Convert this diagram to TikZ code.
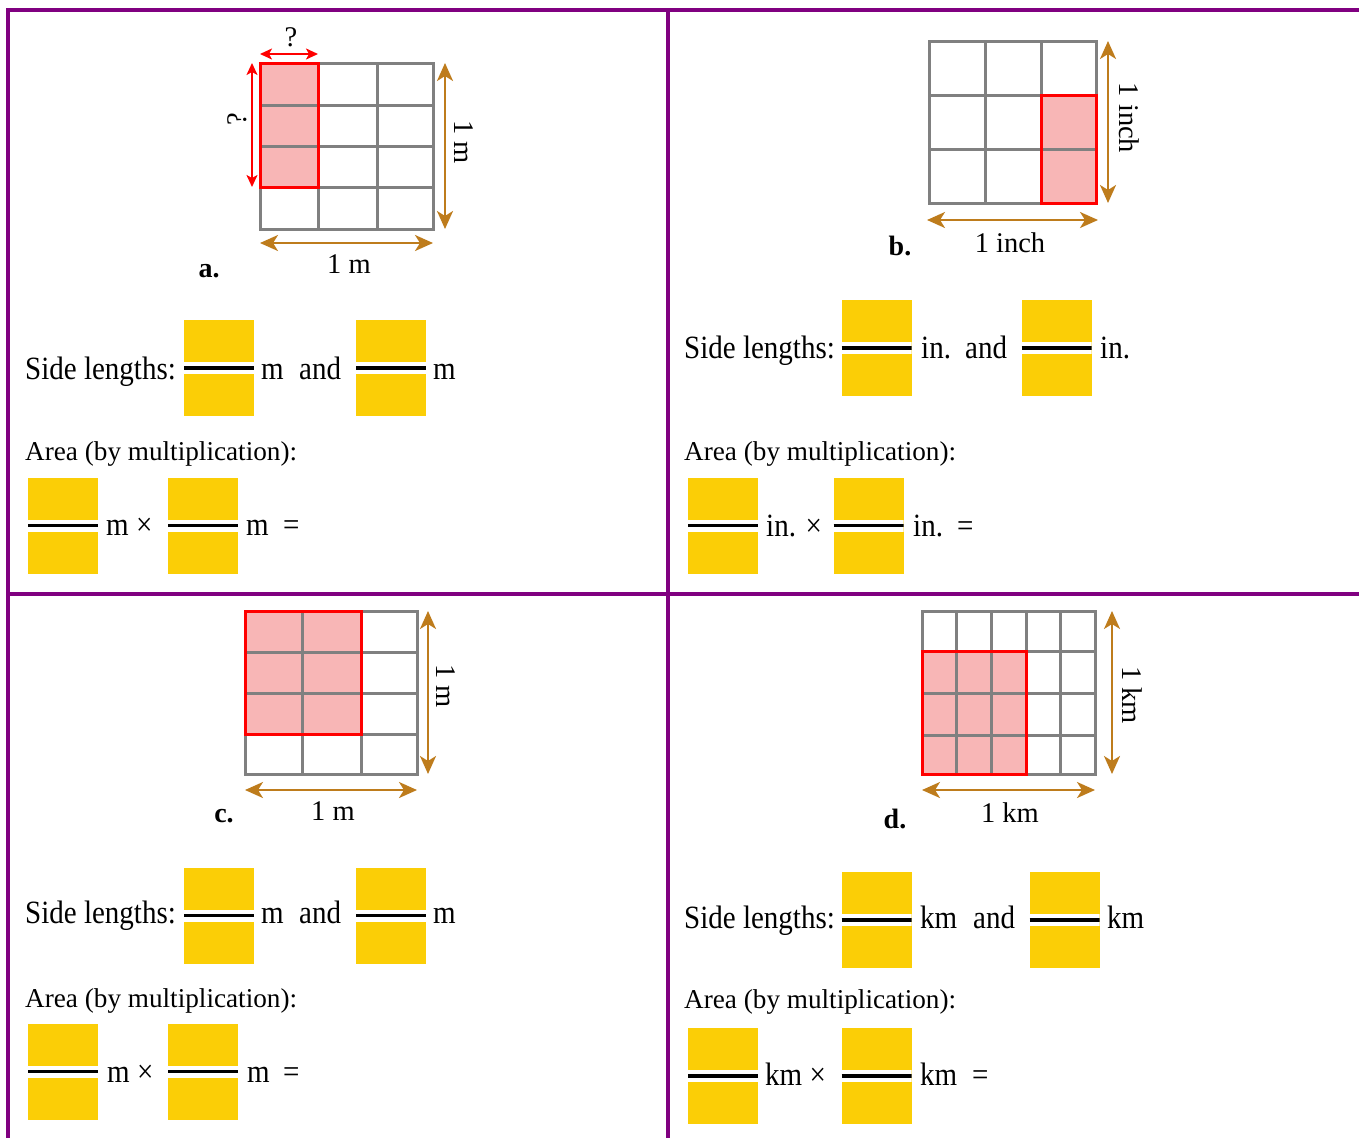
\documentclass[tikz,border=0pt]{standalone}
\usepackage{fontspec}
\setmainfont{Liberation Serif}
\usetikzlibrary{arrows.meta}
\definecolor{framepurple}{RGB}{128,0,128}
\definecolor{ansyellow}{RGB}{251,206,6}
\definecolor{gridgray}{RGB}{128,128,128}
\definecolor{pinkfill}{RGB}{248,182,182}
\definecolor{dimbrown}{RGB}{190,124,28}
\definecolor{hired}{RGB}{255,0,0}
\newcommand{\stretchrow}[1]{\scalebox{1}[1.12]{#1}}
\tikzset{
  frameline/.style={draw=framepurple, line width=4pt},
  gridline/.style={draw=gridgray, line width=3pt},
  hilite/.style={draw=hired, line width=3pt},
  dimarrow/.style={draw=dimbrown, line width=2.2pt,
    {Stealth[length=18pt,width=16pt,inset=5pt]}-{Stealth[length=18pt,width=16pt,inset=5pt]}},
  redarrow/.style={draw=hired, line width=1.8pt,
    {Stealth[length=12pt,width=11pt,inset=3pt]}-{Stealth[length=12pt,width=11pt,inset=3pt]}},
  lbl/.style={inner sep=0pt, font=\fontsize{28.5}{33}\selectfont},
  baselbl/.style={lbl, anchor=base},
  panelletter/.style={inner sep=0pt, anchor=base, font=\fontsize{28}{33}\selectfont\bfseries},
  rowtxt/.style={inner sep=0pt, anchor=base west, font=\fontsize{29}{34}\selectfont},
  areatxt/.style={inner sep=0pt, anchor=base west, font=\fontsize{27.2}{32}\selectfont},
  ansbox/.style={rectangle, fill=ansyellow, minimum width=70pt, minimum height=96pt, inner sep=0pt,
    path picture={
      \fill[white] ([yshift=-6pt]path picture bounding box.west) rectangle ([yshift=6pt]path picture bounding box.east);
      \draw[black, line width=3.2pt] (path picture bounding box.west) -- (path picture bounding box.east);
    }},
}
\begin{document}
\begin{tikzpicture}[x=1pt, y=-1pt]
\useasboundingbox (0,0) rectangle (1359,1138);
\fill[white] (0,0) rectangle (1359,1138);

% ---------- frame ----------
\draw[frameline] (6,10) -- (1359,10);
\draw[frameline] (8,8) -- (8,1138);
\draw[frameline] (668,10) -- (668,1138);
\draw[frameline] (8,593.5) -- (1359,593.5);

% ---------- panel a ----------
\fill[pinkfill] (260,63) rectangle (318,187);
\draw[gridline] (260,63) rectangle (433,229);
\foreach \xx in {318,377} \draw[gridline] (\xx,63) -- (\xx,229);
\foreach \yy in {105.5,146.5,187} \draw[gridline] (260,\yy) -- (433,\yy);
\draw[hilite] (260,63) rectangle (318,187);
\coordinate (aRH1) at (260,54); \coordinate (aRH2) at (318,54);
\coordinate (aRV1) at (252,63); \coordinate (aRV2) at (252,187);
\coordinate (aBV1) at (445,63); \coordinate (aBV2) at (445,229);
\coordinate (aBH1) at (260,243); \coordinate (aBH2) at (433,243);
\draw[redarrow] (aRH1) -- (aRH2);
\draw[redarrow] (aRV1) -- (aRV2);
\draw[dimarrow] (aBV1) -- (aBV2);
\draw[dimarrow] (aBH1) -- (aBH2);
\node[lbl] (aq1) at (291,37) {?};
\node[lbl, rotate=90] (aq2) at (237,119) {?};
\node[lbl, rotate=-90] (aside) at (464,142) {1 m};
\node[baselbl] (abot) at (349,273) {1 m};
\node[panelletter] (alet) at (209,277) {a.};

\node[rowtxt] (aside1) at (25,379) {\stretchrow{Side lengths:}};
\node[ansbox] (ab1) at (219,368) {};
\node[rowtxt] (au1) at (261,379) {\stretchrow{m}};
\node[rowtxt] (aand) at (299,379) {\stretchrow{and}};
\node[ansbox] (ab2) at (391,368) {};
\node[rowtxt] (au2) at (433,379) {\stretchrow{m}};
\node[areatxt] (aarea) at (25,460) {Area (by multiplication):};
\node[ansbox] (ab3) at (63,525.5) {};
\node[rowtxt] (au3) at (106,535) {\stretchrow{m ×}};
\node[ansbox] (ab4) at (203,525.5) {};
\node[rowtxt] (au4) at (246,535) {\stretchrow{m}};
\node[rowtxt] (aeq) at (283,535) {\stretchrow{=}};

% ---------- panel b ----------
\fill[pinkfill] (1041.7,95) rectangle (1096,203);
\draw[gridline] (929,41) rectangle (1096,203);
\foreach \xx in {985.7,1041.7} \draw[gridline] (\xx,41) -- (\xx,203);
\foreach \yy in {95,149.3} \draw[gridline] (929,\yy) -- (1096,\yy);
\draw[hilite] (1041.7,95) rectangle (1096,203);
\coordinate (bBV1) at (1108,41); \coordinate (bBV2) at (1108,203);
\coordinate (bBH1) at (927,220); \coordinate (bBH2) at (1098,220);
\draw[dimarrow] (bBV1) -- (bBV2);
\draw[dimarrow] (bBH1) -- (bBH2);
\node[lbl, rotate=-90] (bside) at (1129,118) {1 inch};
\node[baselbl] (bbot) at (1010,252) {1 inch};
\node[panelletter] (blet) at (900,255) {b.};

\node[rowtxt] (bside1) at (684,358) {\stretchrow{Side lengths:}};
\node[ansbox] (bb1) at (876.5,348) {};
\node[rowtxt] (bu1) at (921,358) {\stretchrow{in.}};
\node[rowtxt] (band) at (965,358) {\stretchrow{and}};
\node[ansbox] (bb2) at (1056.5,348) {};
\node[rowtxt] (bu2) at (1100,358) {\stretchrow{in.}};
\node[areatxt] (barea) at (684,460) {Area (by multiplication):};
\node[ansbox] (bb3) at (723,525.5) {};
\node[rowtxt] (bu3) at (766,536) {\stretchrow{in. ×}};
\node[ansbox] (bb4) at (868.5,525.5) {};
\node[rowtxt] (bu4) at (913,536) {\stretchrow{in.}};
\node[rowtxt] (beq) at (957,536) {\stretchrow{=}};

% ---------- panel c ----------
\fill[pinkfill] (245,611) rectangle (361,734);
\draw[gridline] (245,611) rectangle (417,774);
\foreach \xx in {302,361} \draw[gridline] (\xx,611) -- (\xx,774);
\foreach \yy in {652,693,734} \draw[gridline] (245,\yy) -- (417,\yy);
\draw[hilite] (245,611) rectangle (361,734);
\coordinate (cBV1) at (428,611); \coordinate (cBV2) at (428,774);
\coordinate (cBH1) at (245,790); \coordinate (cBH2) at (417,790);
\draw[dimarrow] (cBV1) -- (cBV2);
\draw[dimarrow] (cBH1) -- (cBH2);
\node[lbl, rotate=-90] (cside) at (446,686) {1 m};
\node[baselbl] (cbot) at (333,820) {1 m};
\node[panelletter] (clet) at (224,822) {c.};

\node[rowtxt] (cside1) at (25,923) {\stretchrow{Side lengths:}};
\node[ansbox] (cb1) at (219,915.5) {};
\node[rowtxt] (cu1) at (261,923) {\stretchrow{m}};
\node[rowtxt] (cand) at (299,923) {\stretchrow{and}};
\node[ansbox] (cb2) at (391,915.5) {};
\node[rowtxt] (cu2) at (433,923) {\stretchrow{m}};
\node[areatxt] (carea) at (25,1007) {Area (by multiplication):};
\node[ansbox] (cb3) at (63,1071.5) {};
\node[rowtxt] (cu3) at (107,1082) {\stretchrow{m ×}};
\node[ansbox] (cb4) at (203,1071.5) {};
\node[rowtxt] (cu4) at (247,1082) {\stretchrow{m}};
\node[rowtxt] (ceq) at (283,1082) {\stretchrow{=}};

% ---------- panel d ----------
\fill[pinkfill] (922,651) rectangle (1026,774);
\draw[gridline] (922,611) rectangle (1095,774);
\foreach \xx in {956,991.5,1026,1060} \draw[gridline] (\xx,611) -- (\xx,774);
\foreach \yy in {651,693,735} \draw[gridline] (922,\yy) -- (1095,\yy);
\draw[hilite] (922,651) rectangle (1026,774);
\coordinate (dBV1) at (1112,611); \coordinate (dBV2) at (1112,774);
\coordinate (dBH1) at (922,790); \coordinate (dBH2) at (1095,790);
\draw[dimarrow] (dBV1) -- (dBV2);
\draw[dimarrow] (dBH1) -- (dBH2);
\node[lbl, rotate=-90] (dside) at (1132,695) {1 km};
\node[baselbl] (dbot) at (1010,822) {1 km};
\node[panelletter] (dlet) at (895,828) {d.};

\node[rowtxt] (dside1) at (684,928) {\stretchrow{Side lengths:}};
\node[ansbox] (db1) at (876.5,920) {};
\node[rowtxt] (du1) at (920,928) {\stretchrow{km}};
\node[rowtxt] (dand) at (973,928) {\stretchrow{and}};
\node[ansbox] (db2) at (1064.5,920) {};
\node[rowtxt] (du2) at (1107,928) {\stretchrow{km}};
\node[areatxt] (darea) at (684,1008) {Area (by multiplication):};
\node[ansbox] (db3) at (723,1076) {};
\node[rowtxt] (du3) at (765,1085) {\stretchrow{km ×}};
\node[ansbox] (db4) at (876.5,1076) {};
\node[rowtxt] (du4) at (920,1085) {\stretchrow{km}};
\node[rowtxt] (deq) at (972,1085) {\stretchrow{=}};
\end{tikzpicture}
\end{document}
